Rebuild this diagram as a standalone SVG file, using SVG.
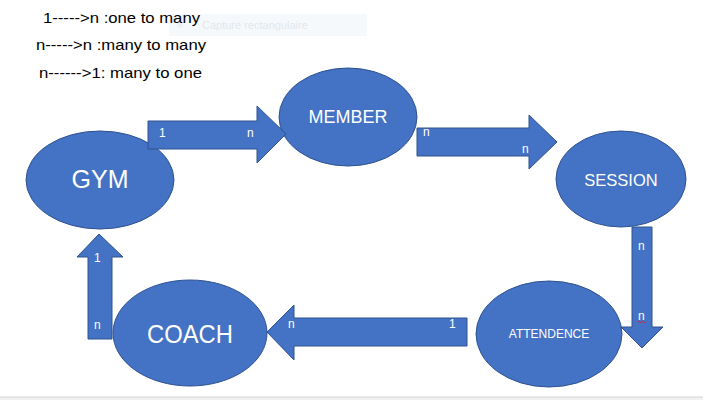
<svg xmlns="http://www.w3.org/2000/svg" width="703" height="400" viewBox="0 0 703 400">
<style>
.node{fill:#4472C4;stroke:#2F528F;stroke-width:1}
.arrow{fill:#4472C4;stroke:#2F528F;stroke-width:1;stroke-linejoin:miter}
.lbl{fill:#fff;font-family:"Liberation Sans",Arial,sans-serif;text-anchor:middle}
.card{fill:#fff;font-family:"Liberation Sans",Arial,sans-serif;font-size:12px}
.legend{fill:#000;font-family:"Liberation Sans",Arial,sans-serif;font-size:15px}
</style>
<rect x="0" y="0" width="703" height="400" fill="#fff"/>
<rect x="169" y="14" width="198" height="22" fill="#f6f9fc"/>
<circle cx="180" cy="25" r="3" fill="#eef1f4"/>
<text x="202" y="29" font-family="Liberation Sans,Arial,sans-serif" font-size="11" fill="#e2e7ec">Capture rectangulaire</text>
<g id="legend">
<text class="legend" x="43" y="23" textLength="157" lengthAdjust="spacingAndGlyphs">1-----&gt;n :one to many</text>
<text class="legend" x="36" y="50" textLength="170" lengthAdjust="spacingAndGlyphs">n-----&gt;n :many to many</text>
<text class="legend" x="39" y="78" textLength="163" lengthAdjust="spacingAndGlyphs">n------&gt;1: many to one</text>
</g>
<g id="gym"><ellipse class="node" cx="100" cy="180" rx="74" ry="49"/><text class="lbl" x="100" y="188" font-size="25">GYM</text></g>
<g id="member"><ellipse class="node" cx="348" cy="117" rx="69" ry="49"/><text class="lbl" x="348" y="123" font-size="18">MEMBER</text></g>
<g id="session"><ellipse class="node" cx="621" cy="179" rx="65" ry="48"/><text class="lbl" x="621" y="186" font-size="16.5">SESSION</text></g>
<g id="attendence"><ellipse class="node" cx="549" cy="334" rx="73" ry="53"/><text class="lbl" x="549" y="338" font-size="12">ATTENDENCE</text></g>
<g id="coach"><ellipse class="node" cx="190" cy="333" rx="77" ry="53"/><text class="lbl" x="190" y="343" font-size="25" textLength="86" lengthAdjust="spacingAndGlyphs">COACH</text></g>
<g id="connectors">
<path class="arrow" d="M148,121 H257 V106 L286,134 L257,163 V149 H148 Z"/>
<text class="card" x="159" y="137">1</text>
<text class="card" x="247" y="137">n</text>
<path class="arrow" d="M417,128 H529 V115 L557,142 L529,169 V156 H417 Z"/>
<text class="card" x="423" y="136">n</text>
<text class="card" x="522" y="153">n</text>
<path class="arrow" d="M632,227 H652 V327 H663 L642,348 L621,327 H632 Z"/>
<text class="card" x="638" y="250">n</text>
<text class="card" x="638" y="320">n</text>
<path d="M638,322 q1,-2 2,0 q1,2 2,0 q1,-2 2,0 q1,2 2,0" fill="none" stroke="#e02020" stroke-width="0.8"/>
<path class="arrow" d="M467,318 V346 H294 V360 L267,332 L294,305 V318 Z"/>
<text class="card" x="288" y="328">n</text>
<text class="card" x="449" y="328">1</text>
<path class="arrow" d="M88,339 V257 H77 L99,234 L123,257 H112 V339 Z"/>
<text class="card" x="94" y="262">1</text>
<text class="card" x="94" y="329">n</text>
</g>
<rect x="0" y="397" width="703" height="3" fill="#f0f0f0"/>
<line x1="0" y1="397" x2="703" y2="397" stroke="#d4d4d4" stroke-width="1"/>
</svg>
